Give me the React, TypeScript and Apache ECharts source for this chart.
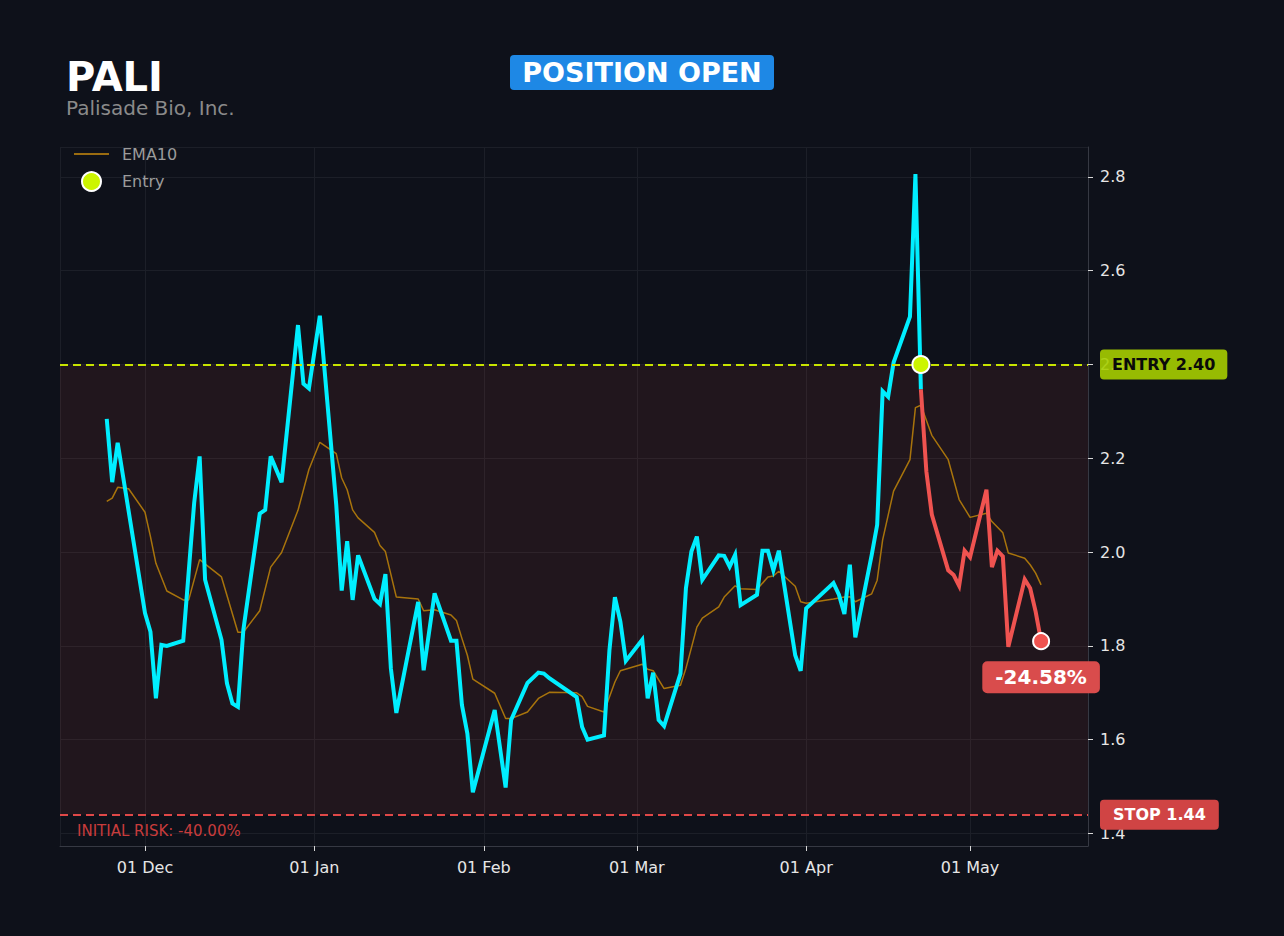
import { useEffect, useRef } from "react";
import * as echarts from "echarts";

// ---- data ----
const priceDates = [
  "2024-11-24","2024-11-25","2024-11-26","2024-12-01","2024-12-02","2024-12-03","2024-12-04","2024-12-05",
  "2024-12-08","2024-12-10","2024-12-11","2024-12-12","2024-12-15","2024-12-16","2024-12-17","2024-12-18",
  "2024-12-19","2024-12-22","2024-12-23","2024-12-24","2024-12-26","2024-12-29","2024-12-30","2024-12-31",
  "2025-01-02","2025-01-05","2025-01-06","2025-01-07","2025-01-08","2025-01-09","2025-01-12","2025-01-13",
  "2025-01-14","2025-01-15","2025-01-16","2025-01-20","2025-01-21","2025-01-23","2025-01-26","2025-01-27",
  "2025-01-28","2025-01-29","2025-01-30","2025-02-03","2025-02-05","2025-02-06","2025-02-09","2025-02-11",
  "2025-02-12","2025-02-13","2025-02-18","2025-02-19","2025-02-20","2025-02-23","2025-02-24","2025-02-25",
  "2025-02-26","2025-02-27","2025-03-02","2025-03-03","2025-03-04","2025-03-05","2025-03-06","2025-03-09",
  "2025-03-10","2025-03-11","2025-03-12","2025-03-13","2025-03-16","2025-03-17","2025-03-18","2025-03-19",
  "2025-03-20","2025-03-23","2025-03-24","2025-03-25","2025-03-26","2025-03-27","2025-03-30","2025-03-31",
  "2025-04-01","2025-04-06","2025-04-07","2025-04-08","2025-04-09","2025-04-10","2025-04-13","2025-04-14",
  "2025-04-15","2025-04-16","2025-04-17","2025-04-20","2025-04-21","2025-04-22",
  "2025-04-23","2025-04-24","2025-04-27","2025-04-28","2025-04-29","2025-04-30","2025-05-01","2025-05-04",
  "2025-05-05","2025-05-06","2025-05-07","2025-05-08","2025-05-11","2025-05-12","2025-05-13","2025-05-14",
];
const priceValues = [
  2.284, 2.149, 2.233, 1.870, 1.830, 1.688, 1.802, 1.800,
  1.811, 2.105, 2.204, 1.941, 1.813, 1.720, 1.677, 1.670,
  1.834, 2.082, 2.090, 2.204, 2.149, 2.484, 2.359, 2.349,
  2.504, 2.101, 1.918, 2.023, 1.898, 1.993, 1.900, 1.889,
  1.953, 1.752, 1.657, 1.894, 1.748, 1.912, 1.811, 1.811,
  1.674, 1.613, 1.488, 1.663, 1.498, 1.642, 1.721, 1.743,
  1.741, 1.731, 1.691, 1.627, 1.600, 1.609, 1.791, 1.904,
  1.852, 1.768, 1.813, 1.688, 1.743, 1.642, 1.629, 1.741,
  1.923, 2.001, 2.033, 1.941, 1.993, 1.992, 1.969, 1.994,
  1.887, 1.909, 2.003, 2.003, 1.961, 2.003, 1.780, 1.747,
  1.880, 1.934, 1.909, 1.868, 1.973, 1.818, 1.994, 2.058,
  2.343, 2.331, 2.404, 2.502, 2.806, 2.347,
  2.172, 2.080, 1.961, 1.951, 1.928, 2.003, 1.989, 2.133,
  1.968, 2.003, 1.991, 1.798, 1.942, 1.923, 1.873, 1.810,
];

const emaDates = [
  "2024-11-24","2024-11-25","2024-11-26","2024-11-28","2024-12-01","2024-12-02","2024-12-03","2024-12-05",
  "2024-12-08","2024-12-09","2024-12-11","2024-12-15","2024-12-18","2024-12-19","2024-12-22","2024-12-24",
  "2024-12-26","2024-12-29","2024-12-31","2025-01-02","2025-01-05","2025-01-06","2025-01-07","2025-01-08",
  "2025-01-09","2025-01-12","2025-01-13","2025-01-14","2025-01-16","2025-01-20","2025-01-21","2025-01-23",
  "2025-01-26","2025-01-27","2025-01-28","2025-01-29","2025-01-30","2025-02-03","2025-02-05","2025-02-06",
  "2025-02-09","2025-02-11","2025-02-13","2025-02-18","2025-02-19","2025-02-20","2025-02-23","2025-02-24",
  "2025-02-25","2025-02-26","2025-03-02","2025-03-03","2025-03-04","2025-03-06","2025-03-09","2025-03-10",
  "2025-03-12","2025-03-13","2025-03-16","2025-03-17","2025-03-19","2025-03-20","2025-03-23","2025-03-25",
  "2025-03-26","2025-03-27","2025-03-30","2025-03-31","2025-04-01","2025-04-06","2025-04-08","2025-04-09",
  "2025-04-10","2025-04-13","2025-04-14","2025-04-15","2025-04-17","2025-04-20","2025-04-21","2025-04-22",
  "2025-04-24","2025-04-27","2025-04-29","2025-05-01","2025-05-04","2025-05-05","2025-05-07","2025-05-08",
  "2025-05-11","2025-05-12","2025-05-13","2025-05-14",
];
const emaValues = [
  2.108, 2.115, 2.138, 2.135, 2.085, 2.033, 1.976, 1.917,
  1.898, 1.898, 1.984, 1.947, 1.829, 1.829, 1.875, 1.968,
  1.999, 2.089, 2.176, 2.234, 2.210, 2.158, 2.133, 2.090,
  2.073, 2.042, 2.014, 2.001, 1.904, 1.900, 1.875, 1.877,
  1.866, 1.854, 1.816, 1.780, 1.729, 1.699, 1.645, 1.645,
  1.659, 1.688, 1.701, 1.700, 1.692, 1.671, 1.659, 1.691,
  1.723, 1.747, 1.761, 1.750, 1.747, 1.709, 1.716, 1.752,
  1.840, 1.859, 1.883, 1.904, 1.928, 1.922, 1.920, 1.947,
  1.949, 1.959, 1.927, 1.894, 1.891, 1.900, 1.904, 1.905,
  1.894, 1.911, 1.940, 2.026, 2.130, 2.197, 2.308, 2.313,
  2.249, 2.197, 2.112, 2.074, 2.083, 2.065, 2.041, 1.998,
  1.987, 1.973, 1.955, 1.930,
];

const ENTRY_DATE = "2025-04-22";
const ENTRY_PRICE = 2.4;
const STOP_PRICE = 1.44;

const monthNames = ["Jan", "Feb", "Mar", "Apr", "May", "Jun", "Jul", "Aug", "Sep", "Oct", "Nov", "Dec"];
const xRange = ["2024-11-15T10:40:00Z", "2025-05-22T14:00:00Z"];
const yRange = [1.3733, 2.8637];

const FONT = '"DejaVu Sans"';

function ts(s: string) {
  const [y, m, d] = s.split("-").map(Number);
  return Date.UTC(y, m - 1, d);
}

function buildOption() {
  const entryTs = ts(ENTRY_DATE);
  const price = priceDates.map((d, i) => [ts(d), priceValues[i]]);
  const before = price.filter((p) => p[0] <= entryTs);
  const after = price.filter((p) => p[0] >= entryTs);
  const ema = emaDates.map((d, i) => [ts(d), emaValues[i]]);
  const last = after[after.length - 1];
  const pct = ((last[1] / ENTRY_PRICE - 1) * 100).toFixed(2) + "%";
  const risk = "INITIAL RISK: " + ((STOP_PRICE / ENTRY_PRICE - 1) * 100).toFixed(2) + "%";

  const fmtDate = (v: any) => {
    const val = typeof v === "object" && v !== null ? v.value : v;
    const d = new Date(val);
    if (d.getUTCDate() !== 1 || d.getUTCHours() !== 0 || d.getUTCMinutes() !== 0) return "";
    return "01 " + monthNames[d.getUTCMonth()];
  };

  return {
    animation: false,
    useUTC: true,
    backgroundColor: "#0e111a",
    textStyle: { fontFamily: FONT },
    grid: { left: 60, right: 196, top: 147, bottom: 90, containLabel: false },
    legend: {
      orient: "vertical",
      left: 74,
      top: 146,
      padding: 0,
      itemWidth: 35,
      itemHeight: 19,
      itemGap: 9,
      textStyle: { color: "#9b9b9b", fontSize: 16, fontFamily: FONT, padding: [0, 0, 0, 8] },
      data: [
        { name: "EMA10", icon: "path://M0,0H35V2H0Z", itemStyle: { color: "#9a6c10", borderWidth: 0 } },
        { name: "Entry", icon: "circle" },
      ],
    },
    graphic: [
      {
        type: "text",
        x: 66,
        y: 77,
        style: { text: "PALI", font: `bold 40px ${FONT}`, fill: "#ffffff", align: "left", verticalAlign: "middle" },
      },
      {
        type: "text",
        x: 66,
        y: 108,
        style: { text: "Palisade Bio, Inc.", font: `20px ${FONT}`, fill: "#8a8a8a", align: "left", verticalAlign: "middle" },
      },
      {
        type: "rect",
        shape: { x: 510, y: 55, width: 264, height: 35, r: 4 },
        style: { fill: "#1e88e5" },
      },
      {
        type: "text",
        x: 642,
        y: 72.5,
        style: { text: "POSITION OPEN", font: `bold 27px ${FONT}`, fill: "#ffffff", align: "center", verticalAlign: "middle" },
      },
    ],
    xAxis: {
      type: "time",
      min: Date.parse(xRange[0]),
      max: Date.parse(xRange[1]),
      splitNumber: 6,
      axisLine: { show: true, lineStyle: { color: "#363943", width: 1 } },
      axisTick: { show: true, length: 5, lineStyle: { color: "#d8d8d8" } },
      axisLabel: {
        color: "#e6e6e6",
        fontSize: 16,
        fontFamily: FONT,
        margin: 13,
        formatter: fmtDate,
      },
      splitLine: { show: true, lineStyle: { color: "#1c1f28", width: 1 } },
    },
    yAxis: {
      type: "value",
      position: "right",
      min: yRange[0],
      max: yRange[1],
      splitNumber: 7,
      minInterval: 0.2,
      maxInterval: 0.2,
      axisLine: { show: true, lineStyle: { color: "#363943", width: 1 } },
      axisTick: { show: true, length: 5, lineStyle: { color: "#d8d8d8" } },
      axisLabel: {
        color: "#e6e6e6",
        fontSize: 16,
        fontFamily: FONT,
        margin: 12,
        showMinLabel: false,
        showMaxLabel: false,
        formatter: (v: number) => v.toFixed(1),
      },
      splitLine: { show: true, lineStyle: { color: "#1c1f28", width: 1 } },
    },
    series: [
      {
        name: "EMA10",
        type: "line",
        data: ema,
        symbol: "none",
        showSymbol: false,
        lineStyle: { color: "#a8740c", width: 1.5 },
        itemStyle: { color: "#a8740c" },
        z: 2,
      },
      {
        name: "Price",
        type: "line",
        data: before,
        symbol: "none",
        showSymbol: false,
        lineStyle: { color: "#00eeff", width: 4, join: "miter" },
        itemStyle: { color: "#00eeff" },
        z: 3,
        markArea: {
          silent: true,
          itemStyle: { color: "rgba(230,80,70,0.09)" },
          data: [[{ yAxis: STOP_PRICE }, { yAxis: ENTRY_PRICE }]],
        },
        markLine: {
          silent: true,
          symbol: ["none", "none"],
          data: [
            {
              yAxis: ENTRY_PRICE,
              lineStyle: { color: "#c8e400", type: [8, 5], width: 2 },
              label: {
                show: true,
                position: "end",
                distance: 12,
                formatter: "ENTRY " + ENTRY_PRICE.toFixed(2),
                backgroundColor: "rgba(166,206,0,0.9)",
                color: "#0a0a0a",
                fontWeight: "bold",
                fontSize: 16,
                fontFamily: FONT,
                padding: [7, 12, 7, 12],
                borderRadius: 4,
              },
            },
            {
              yAxis: STOP_PRICE,
              lineStyle: { color: "#e04848", type: [8, 5], width: 2 },
              label: {
                show: true,
                position: "end",
                distance: 12,
                formatter: "STOP " + STOP_PRICE.toFixed(2),
                backgroundColor: "#d04444",
                color: "#ffffff",
                fontWeight: "bold",
                fontSize: 16,
                fontFamily: FONT,
                padding: [7, 13, 7, 13],
                borderRadius: 4,
              },
            },
            {
              yAxis: STOP_PRICE,
              lineStyle: { color: "rgba(0,0,0,0)", width: 0 },
              label: {
                show: true,
                position: "insideStartBottom",
                distance: [17, 9],
                formatter: risk,
                color: "#c83c3c",
                fontSize: 15,
                fontFamily: FONT,
              },
            },
          ],
        },
      },
      {
        name: "Since entry",
        type: "line",
        data: after,
        symbol: "none",
        showSymbol: false,
        lineStyle: { color: "#ef5350", width: 4, join: "miter" },
        itemStyle: { color: "#ef5350" },
        z: 3,
      },
      {
        name: "Entry",
        type: "scatter",
        data: [[entryTs, ENTRY_PRICE]],
        symbol: "circle",
        symbolSize: 17,
        itemStyle: { color: "#ccf500", borderColor: "#ffffff", borderWidth: 2, opacity: 1 },
        z: 5,
      },
      {
        name: "Last",
        type: "scatter",
        data: [last],
        symbol: "circle",
        symbolSize: 16,
        itemStyle: { color: "#ef5350", borderColor: "#ffffff", borderWidth: 2, opacity: 1 },
        z: 5,
        label: {
          show: true,
          position: "bottom",
          distance: 11,
          formatter: pct,
          backgroundColor: "#d94c4c",
          color: "#ffffff",
          fontWeight: "bold",
          fontSize: 20,
          fontFamily: FONT,
          padding: [6, 13, 6, 13],
          borderRadius: 5,
        },
      },
    ],
  };
}

export default function App() {
  const ref = useRef<HTMLDivElement>(null);
  useEffect(() => {
    if (!ref.current) return;
    const chart = echarts.init(ref.current, null, { renderer: "svg" });
    chart.setOption(buildOption() as any);
    return () => chart.dispose();
  }, []);
  return (
    <div
      ref={ref}
      style={{ position: "fixed", left: 0, top: 0, width: 1284, height: 936, background: "#0e111a" }}
    />
  );
}
